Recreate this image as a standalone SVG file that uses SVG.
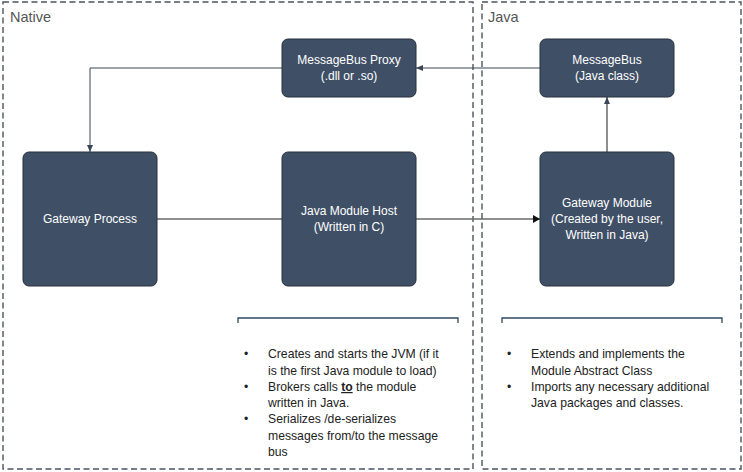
<svg xmlns="http://www.w3.org/2000/svg" width="743" height="472" viewBox="0 0 743 472">
<style>
.zone{fill:none;stroke:#4a5460;stroke-width:1.4;stroke-dasharray:6,3.5}
.zl{font-family:"Liberation Sans",Arial,sans-serif;font-size:14.5px;fill:#555}
.node rect{fill:#3f5066;stroke:#27313d;stroke-width:1}
.node text{font-family:"Liberation Sans",Arial,sans-serif;font-size:12px;fill:#fff;text-anchor:middle}
.c{fill:none;stroke:#3a4656;stroke-width:1}
.cg{fill:none;stroke:#6a6a6a;stroke-width:1.5}
.br{fill:none;stroke:#2f4a5e;stroke-width:1.3}
.t{font-family:"Liberation Sans",Arial,sans-serif;font-size:12.2px;fill:#222}
</style>
<defs>
<marker id="a" markerWidth="8" markerHeight="8" refX="7" refY="4" orient="auto" markerUnits="userSpaceOnUse"><path d="M0,1 L7,4 L0,7 z" fill="#3a4656"/></marker>
<marker id="ab" markerWidth="8" markerHeight="10" refX="7" refY="5" orient="auto" markerUnits="userSpaceOnUse"><path d="M0,1 L7,5 L0,9 z" fill="#111"/></marker>
</defs>
<g id="zones">
<rect class="zone" x="3" y="2" width="470" height="467"/>
<text class="zl" x="10" y="22">Native</text>
<rect class="zone" x="482" y="2" width="259" height="467"/>
<text class="zl" x="488" y="22">Java</text>
</g>
<g id="connectors">
<path class="c" d="M540,68 H416" marker-end="url(#a)"/>
<path class="c" d="M282,68 H90 V152" marker-end="url(#a)"/>
<path class="cg" d="M157,219 H282"/>
<path class="cg" d="M416,219 H540" marker-end="url(#ab)"/>
<path class="cg" d="M607,152 V97" marker-end="url(#a)"/>
</g>
<g id="proxy" class="node"><rect x="282" y="39" width="134" height="58" rx="6"/><text x="349" y="64">MessageBus Proxy</text><text x="349" y="80">(.dll or .so)</text></g>
<g id="messagebus" class="node"><rect x="540" y="39" width="134" height="58" rx="6"/><text x="607" y="64">MessageBus</text><text x="607" y="80">(Java class)</text></g>
<g id="gwprocess" class="node"><rect x="23" y="152" width="134" height="134" rx="6"/><text x="90" y="223">Gateway Process</text></g>
<g id="jmhost" class="node"><rect x="282" y="152" width="134" height="134" rx="6"/><text x="349" y="215">Java Module Host</text><text x="349" y="231">(Written in C)</text></g>
<g id="gwmodule" class="node"><rect x="540" y="152" width="134" height="134" rx="6"/><text x="607" y="207">Gateway Module</text><text x="607" y="223">(Created by the user,</text><text x="607" y="239">Written in Java)</text></g>
<g id="notes-native">
<path class="br" d="M238,323 V318 H458 V323"/>
<g class="t">
<text x="244" y="358">•</text>
<text x="268" y="358">Creates and starts the JVM (if it</text>
<text x="268" y="375">is the first Java module to load)</text>
<text x="244" y="391">•</text>
<text x="268" y="391">Brokers calls <tspan font-weight="bold" text-decoration="underline">to</tspan> the module</text>
<text x="268" y="407">written in Java.</text>
<text x="244" y="423">•</text>
<text x="268" y="423">Serializes /de-serializes</text>
<text x="268" y="440">messages from/to the message</text>
<text x="268" y="456">bus</text>
</g>
</g>
<g id="notes-java">
<path class="br" d="M502,323 V318 H722 V323"/>
<g class="t">
<text x="507" y="358">•</text>
<text x="531" y="358">Extends and implements the</text>
<text x="531" y="375">Module Abstract Class</text>
<text x="507" y="391">•</text>
<text x="531" y="391">Imports any necessary additional</text>
<text x="531" y="407">Java packages and classes.</text>
</g>
</g>
</svg>
